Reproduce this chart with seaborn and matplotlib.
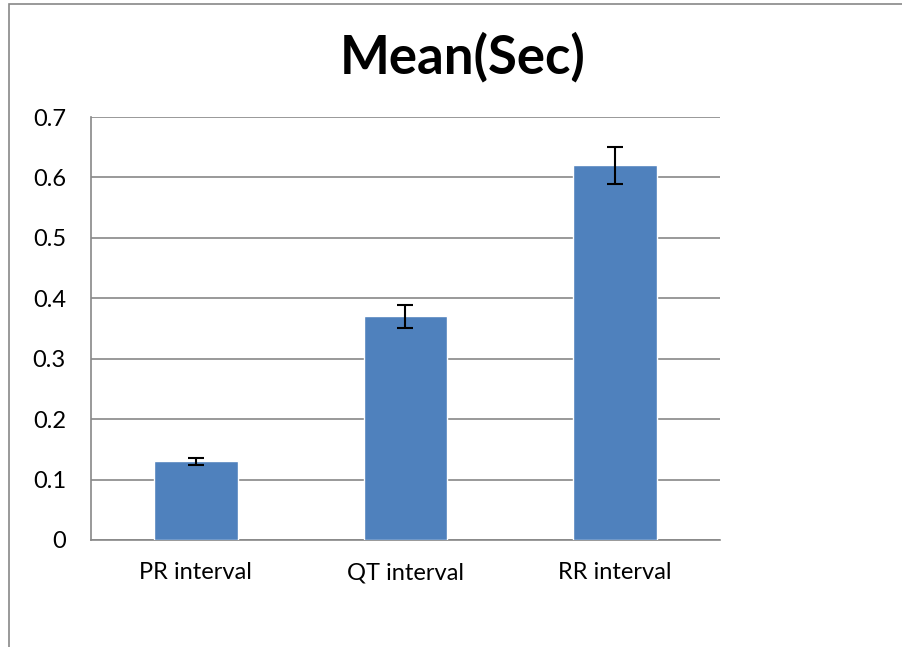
import matplotlib
matplotlib.use("Agg")
import matplotlib.pyplot as plt
import matplotlib.patches as mpatches
import seaborn as sns
import pandas as pd

# Data
categories = ["PR interval", "QT interval", "RR interval"]
means = [0.13, 0.37, 0.62]
errors = [0.006, 0.019, 0.031]
yticks = [0, 0.1, 0.2, 0.3, 0.4, 0.5, 0.6, 0.7]
ytick_labels = ["0", "0.1", "0.2", "0.3", "0.4", "0.5", "0.6", "0.7"]

sns.set_style("white")
plt.rcParams["font.family"] = ["Lato", "DejaVu Sans"]

df = pd.DataFrame({"interval": categories, "mean": means})

fig = plt.figure(figsize=(9.03, 6.47), dpi=100)
ax = fig.add_axes([91 / 903, 1 - 540 / 647, 629 / 903, 423 / 647])

sns.barplot(data=df, x="interval", y="mean", color="#4F81BD", saturation=1,
            width=0.4, errorbar=None, ax=ax, zorder=3)
ax.errorbar(range(len(categories)), means, yerr=errors, fmt="none",
            ecolor="black", elinewidth=1.5, capsize=6, capthick=1.5, zorder=4)

ax.set_ylim(0, 0.7)
ax.set_xlim(-0.5, 2.5)
ax.set_yticks(yticks)
ax.set_yticklabels(ytick_labels)
ax.yaxis.grid(True, color="#888888", linewidth=1.2, zorder=0)
ax.set_axisbelow(True)
ax.set_xlabel("")
ax.set_ylabel("")

# category boundary ticks like the original
ax.set_xticks([-0.5, 0.5, 1.5, 2.5], minor=True)
ax.set_xticks(range(len(categories)))
ax.set_xticklabels(categories)
ax.tick_params(axis="x", which="major", length=0, pad=16, labelsize=17,
               labelcolor="black")
ax.tick_params(axis="x", which="minor", length=6, color="#888888", width=1.2)
ax.tick_params(axis="y", length=6, color="#888888", width=1.2, labelsize=17,
               pad=12, labelcolor="black")

for side in ["top", "right"]:
    ax.spines[side].set_visible(False)
for side in ["left", "bottom"]:
    ax.spines[side].set_color("#888888")
    ax.spines[side].set_linewidth(1.2)

fig.text(0.512, 0.912, "Mean(Sec)", ha="center", va="center",
         fontsize=38, fontweight="bold", color="black")

# outer chart border
fig.patches.append(mpatches.Rectangle((9 / 903, -0.1), 1.2, 1 - 4 / 647 + 0.1,
                                      transform=fig.transFigure, fill=False,
                                      edgecolor="#888888", linewidth=1.2))

fig.savefig("out.png", dpi=100)
